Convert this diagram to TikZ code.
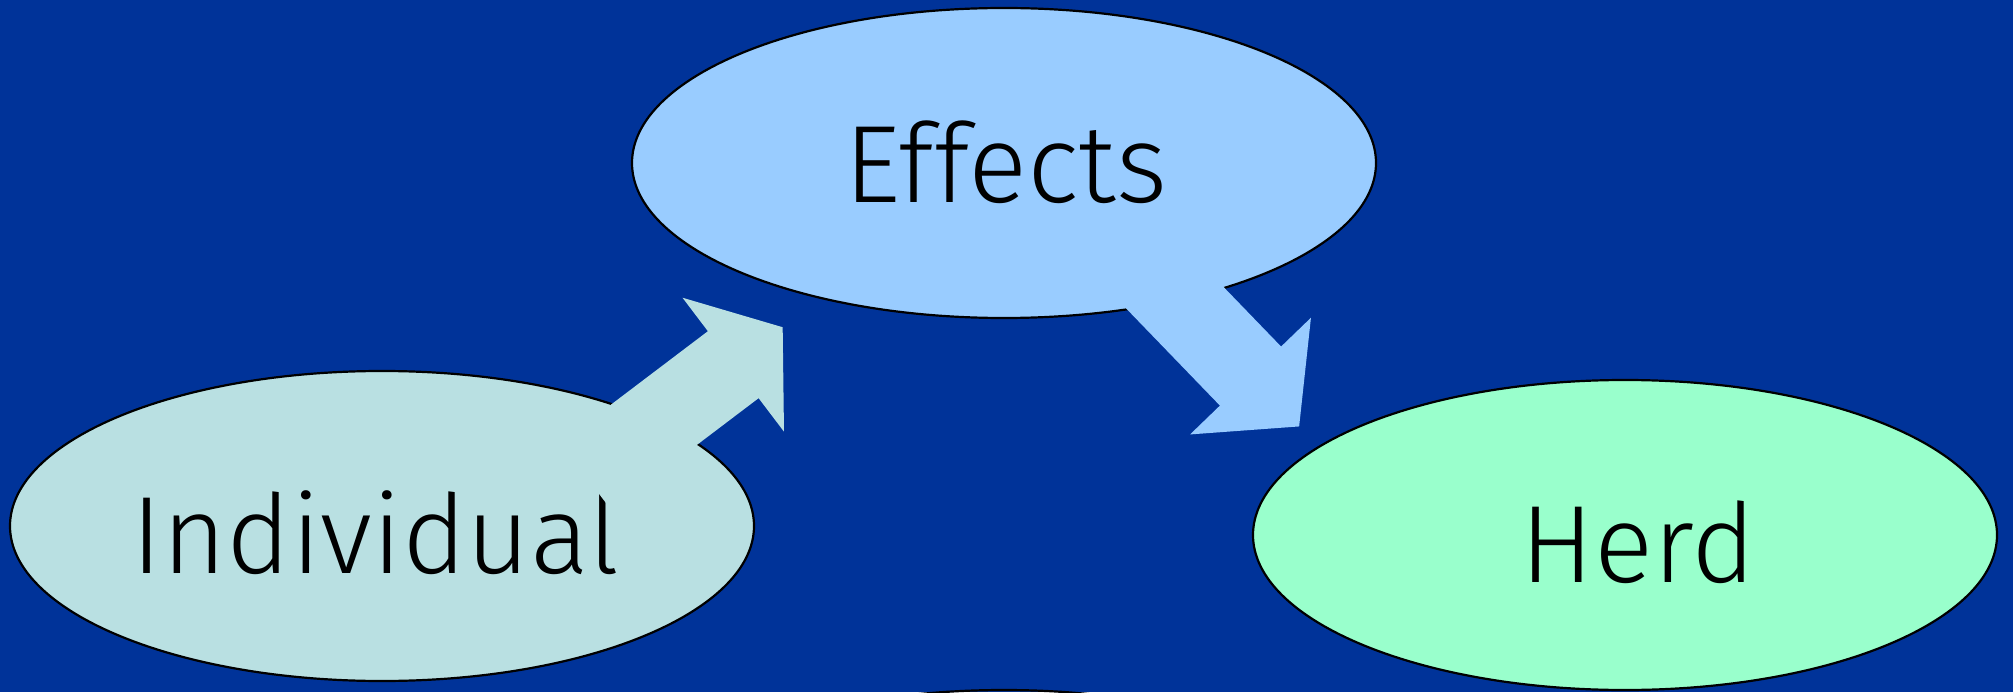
\documentclass[tikz,border=0pt]{standalone}
\usepackage{fontspec}
\setmainfont{Fira Sans}[UprightFont=* Light]
\usetikzlibrary{shapes.geometric}
\definecolor{bg}{HTML}{003399}
\definecolor{effc}{HTML}{99CCFF}
\definecolor{indc}{HTML}{B9E0E2}
\definecolor{herdc}{HTML}{99FFCC}
\begin{document}
\begin{tikzpicture}[x=0.5pt,y=0.5pt,
  bubble/.style={ellipse, draw=black, line width=1.1pt, minimum width=372pt, minimum height=155pt, inner sep=0pt},
  word/.style={anchor=base, font=\fontsize{55}{60}\selectfont, text=black, inner sep=0pt}]
\fill[bg] (0,0) rectangle (2013,692);
\useasboundingbox (0,0) rectangle (2013,692);
\begin{scope}
\clip (0,0) rectangle (2013,692);
\node[bubble] (lower) at (1004,-153) {};
\end{scope}
\node[bubble, fill=effc] (eff) at (1004,529) {};
\node[bubble, fill=indc] (ind) at (382,166) {};
\node[bubble, fill=herdc] (herd) at (1625,157) {};
\node[word] (effT) at (1006,489) {Effects};
\node[word] (indT) at (375.5,119) {Individual};
\node[word] (herdT) at (1638,110) {Herd};
\coordinate (a1s) at (585.8,215.6);
\coordinate (a2s) at (1122,449);
\fill[indc, shift={(a1s)}, rotate=37.15] (0,-42) -- (185,-42) -- (185,-84) -- (247,0) -- (185,84) -- (185,42) -- (0,42) -- cycle;
\fill[effc, shift={(a2s)}, rotate=-46] (0,-42.5) -- (185,-42.5) -- (185,-84) -- (255,0) -- (185,84) -- (185,42.5) -- (0,42.5) -- cycle;
\end{tikzpicture}
\end{document}
